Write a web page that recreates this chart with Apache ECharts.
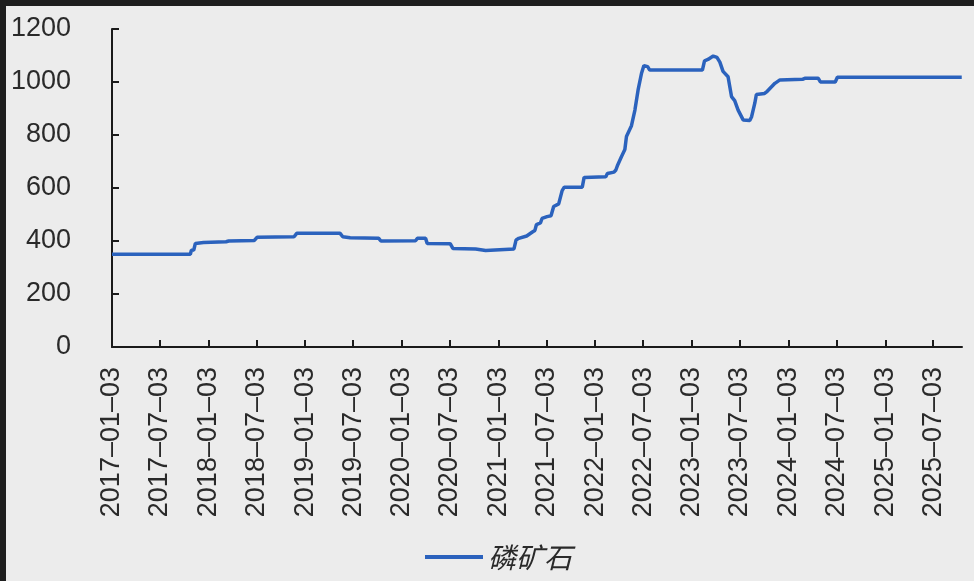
<!DOCTYPE html>
<html>
<head>
<meta charset="utf-8">
<script src="https://cdn.jsdelivr.net/npm/echarts@6/dist/echarts.min.js"></script>
<style>
html,body{margin:0;padding:0;background:#ececec;}
#c{width:974px;height:581px;}
</style>
</head>
<body>
<div id="c"></div>
<script>
// Data: polyline vertices (date, price) of 磷矿石
const seriesName = '磷矿石';
const dates = [
  '2017-01-03','2017-10-26','2017-10-30','2017-11-08','2017-11-14','2017-12-15','2018-03-10','2018-03-20',
  '2018-06-25','2018-07-05','2018-11-22','2018-12-02','2019-05-15','2019-05-25','2019-06-22','2019-10-08',
  '2019-10-16','2020-02-24','2020-03-02','2020-04-02','2020-04-08','2020-07-04','2020-07-14','2020-10-08',
  '2020-10-15','2020-11-15','2020-11-22','2021-03-02','2021-03-10','2021-03-20','2021-04-19','2021-05-12',
  '2021-05-20','2021-05-26','2021-06-10','2021-06-16','2021-07-05','2021-07-20','2021-07-30','2021-08-18',
  '2021-08-25','2021-08-31','2021-09-08','2021-11-15','2021-11-22','2022-02-12','2022-02-18','2022-03-15',
  '2022-03-22','2022-03-29','2022-04-12','2022-04-25','2022-05-01','2022-05-20','2022-06-02','2022-06-14',
  '2022-06-27','2022-07-06','2022-07-20','2022-07-28','2023-02-12','2023-02-20','2023-03-05','2023-03-25',
  '2023-04-08','2023-04-19','2023-05-01','2023-05-20','2023-06-02','2023-06-14','2023-06-27','2023-07-16',
  '2023-07-22','2023-08-10','2023-08-17','2023-08-29','2023-09-04','2023-10-05','2023-10-15','2023-11-13',
  '2023-12-02','2024-02-25','2024-03-05','2024-04-25','2024-05-03','2024-06-28','2024-07-06','2025-10-19'
];
const values = [
  350,350,365,366,391,394,397,400,
  402,414,416,429,429,416,412,410,
  400,401,410,410,391,390,372,370,
  363,364,370,370,404,410,419,435,
  440,462,468,485,492,495,530,540,
  543,590,603,603,640,642,655,660,
  668,687,718,745,794,835,894,970,
  1033,1062,1058,1045,1045,1080,1085,1098,
  1093,1075,1040,1020,945,930,894,857,
  850,855,869,920,953,957,965,995,
  1008,1010,1014,1014,1000,1000,1018,1018
];
const tickLabels = [
  '2017-01-03','2017-07-03','2018-01-03','2018-07-03','2019-01-03','2019-07-03',
  '2020-01-03','2020-07-03','2021-01-03','2021-07-03','2022-01-03','2022-07-03',
  '2023-01-03','2023-07-03','2024-01-03','2024-07-03','2025-01-03','2025-07-03'
];
const axisStart = '2017-01-03';
const axisEnd = '2025-10-20';

function dayNum(s){ const p = s.split('-'); return Math.round((Date.UTC(+p[0], +p[1]-1, +p[2]) - Date.UTC(2017, 0, 3)) / 86400000); }
const tickDays = tickLabels.map(dayNum);
const labelMap = {};
tickLabels.forEach(function(s, i){ labelMap[tickDays[i]] = s; });
const seriesData = dates.map(function(d, i){ return [dayNum(d), values[i]]; });

const chart = echarts.init(document.getElementById('c'));
chart.setOption({
  backgroundColor: '#ececec',
  animation: false,
  grid: {left: 112, right: 12, top: 29, bottom: 234, containLabel: false},
  graphic: [{
    type: 'rect', left: 0, top: 0, z: 100, silent: true,
    shape: {x: 0, y: 0, width: 974, height: 581},
    style: {fill: 'none', stroke: '#1e1e1e', lineWidth: 6}
  }],
  xAxis: {
    type: 'value',
    min: dayNum(axisStart),
    max: dayNum(axisEnd),
    axisLine: {show: true, onZero: false, lineStyle: {color: '#1a1a1a', width: 2}},
    axisTick: {show: true, inside: true, length: 7, lineStyle: {color: '#1a1a1a', width: 2}, customValues: tickDays},
    splitLine: {show: false},
    axisLabel: {
      customValues: tickDays,
      rotate: 90,
      margin: 20,
      fontFamily: 'Liberation Sans',
      fontSize: 27,
      color: '#2a2a2a',
      formatter: function(v){ return (labelMap[Math.round(v)] || '').replace(/-/g, '\u2013'); }
    }
  },
  yAxis: {
    type: 'value',
    min: 0, max: 1200, interval: 200,
    axisLine: {show: true, lineStyle: {color: '#1a1a1a', width: 2}},
    axisTick: {show: true, inside: true, length: 7, lineStyle: {color: '#1a1a1a', width: 2}},
    splitLine: {show: false},
    axisLabel: {
      margin: 41,
      fontFamily: 'Liberation Sans',
      fontSize: 27,
      color: '#2a2a2a',
      formatter: function(v){ return String(v); }
    }
  },
  legend: {
    bottom: 5,
    left: 420,
    icon: 'rect',
    itemWidth: 58,
    itemHeight: 4,
    itemGap: 10,
    textStyle: {fontFamily: 'Noto Sans CJK SC', fontSize: 28, color: '#2a2a2a', fontStyle: 'italic'},
    data: [seriesName]
  },
  series: [{
    name: seriesName,
    type: 'line',
    showSymbol: false,
    symbol: 'none',
    lineStyle: {color: '#2b62bd', width: 3.5},
    itemStyle: {color: '#2b62bd'},
    data: seriesData
  }]
});
</script>
</body>
</html>
